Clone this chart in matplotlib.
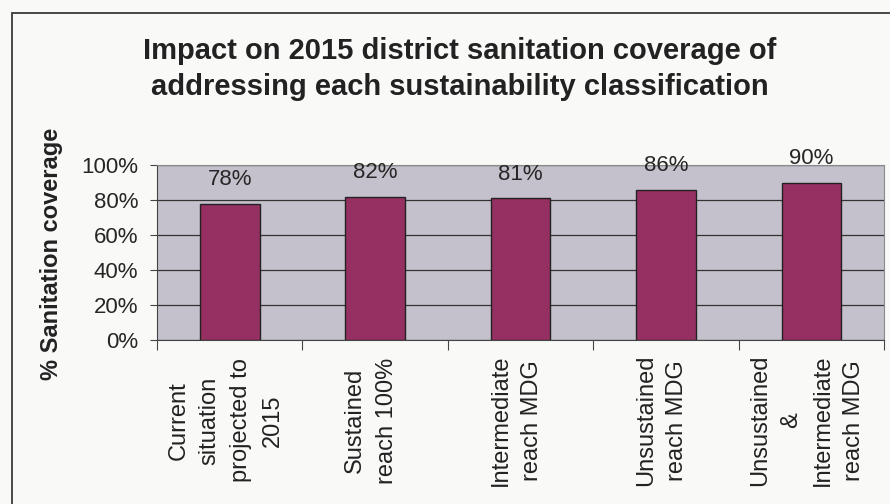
import matplotlib.pyplot as plt
import numpy as np
from matplotlib.patches import Rectangle
from matplotlib.ticker import PercentFormatter

plt.rcParams['font.family'] = ['Liberation Sans', 'DejaVu Sans']

categories = ["Current\nsituation\nprojected to\n2015",
              "Sustained\nreach 100%",
              "Intermediate\nreach MDG",
              "Unsustained\nreach MDG",
              "Unsustained\n&\nIntermediate\nreach MDG"]
coverage = [78, 82, 81, 86, 90]
yticks = [0, 20, 40, 60, 80, 100]

fig = plt.figure(figsize=(8.9, 5.04), dpi=100)
fig.patch.set_facecolor('#f9f9f8')
# chart area border (cut off at right/bottom like the scan)
fig.patches.append(Rectangle((0.0135, -0.05), 1.2, 1.024, transform=fig.transFigure,
                             fill=False, edgecolor='#3a3a3a', linewidth=1.3))

ax = fig.add_axes([0.1764, 0.3254, 0.8169, 0.3472])
x = np.arange(len(categories))
ax.set_facecolor('#c5c1cc')
ax.bar(x, coverage, width=0.41, color='#963062', edgecolor='#222222', linewidth=1, zorder=3)
for xi, v in zip(x, coverage):
    ax.annotate(f"{v}%", (xi, v), xytext=(0, 13), textcoords='offset points',
                ha='center', va='baseline', fontsize=16, color='#262626')

ax.set_xlim(-0.5, len(categories) - 0.5)
ax.set_ylim(0, 100)
ax.set_yticks(yticks)
ax.yaxis.set_major_formatter(PercentFormatter(decimals=0))
ax.grid(axis='y', color='#333333', linewidth=0.9, zorder=1)
ax.set_axisbelow(True)

# ticks between categories, labels placed under each bar
ax.set_xticks(np.arange(-0.5, len(categories), 1.0))
ax.set_xticklabels([])
ax.tick_params(axis='x', which='major', length=7, direction='out', color='#444444')
for xi, lab in zip(x, categories):
    ax.annotate(lab, (xi, 0), xycoords=('data', 'axes fraction'),
                xytext=(-3, -58), textcoords='offset points', rotation=90,
                ha='center', va='center', multialignment='center',
                fontsize=17, linespacing=1.55, color='#222222')

ax.tick_params(axis='y', labelsize=16, length=5, pad=8.5, color='#444444', labelcolor='#262626')

for side in ['top', 'right']:
    ax.spines[side].set_color('#8a8a8a')
ax.spines['left'].set_color('#444444')
ax.spines['bottom'].set_color('#444444')

ax.set_ylabel('% Sanitation coverage', fontsize=17, fontweight='bold', color='#222222')
ax.yaxis.set_label_coords(-0.129, 0.49)

fig.text(0.517, 0.863, "Impact on 2015 district sanitation coverage of\naddressing each sustainability classification",
         ha='center', va='center', fontsize=21, fontweight='bold', color='#222222',
         linespacing=1.35)

fig.savefig('out.png', dpi=100, facecolor=fig.get_facecolor())
